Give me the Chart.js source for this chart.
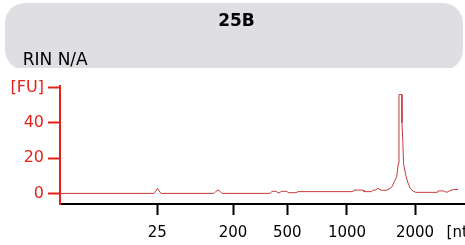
<!DOCTYPE html>
<html>
<head>
<meta charset="utf-8">
<script src="https://cdn.jsdelivr.net/npm/chart.js@4.4.0/dist/chart.umd.min.js"></script>
<style>
    html, body { margin: 0; padding: 0; background: #ffffff; }
    #page { position: relative; width: 465px; height: 245px; overflow: hidden; }
    #trace { position: absolute; left: 0; top: 0; }
    #header { position: absolute; left: 5px; top: 3px; width: 458px; height: 65px; overflow: hidden; }
    #header .box { position: absolute; left: 0; top: 0; width: 458px; height: 67px; background: #dfdfe3; border-radius: 20px; }
    #sampleName {
        position: absolute; left: 0; top: 6.5px; width: 463px; text-align: center;
        font: bold 17px "DejaVu Sans", sans-serif; line-height: 20px; color: #000;
    }
    #rin {
        position: absolute; left: 17.7px; top: 46.1px;
        font: 17px "DejaVu Sans", sans-serif; line-height: 20px; color: #000;
    }
</style>
</head>
<body>
<div id="page">
    <canvas id="trace" width="465" height="245"></canvas>
    <div id="header">
        <div class="box"></div>
        <div id="sampleName">25B</div>
        <div id="rin">RIN N/A</div>
    </div>
</div>
<script>
// Electropherogram trace: migration time [s] vs fluorescence [FU]
const migrationTime = [
    19.00, 30.60, 30.85, 31.04, 31.22, 31.47, 38.01, 38.26, 38.51, 38.75,
    39.00, 44.93, 45.17, 45.67, 45.91, 46.16, 46.28, 47.02, 47.15, 48.14,
    48.38, 55.17, 55.30, 56.41, 56.53, 57.48, 57.60, 58.01, 58.26, 58.51,
    58.88, 59.25, 59.49, 59.74, 59.99, 60.36, 60.57, 60.77, 60.85, 61.19,
    61.22, 61.32, 61.41, 61.68, 61.93, 62.21, 62.58, 62.95, 65.60, 65.67,
    66.41, 66.54, 66.90, 67.02, 67.56, 68.14
];
const fluorescence = [
    0, 0, 1.5, 2.9, 1.5, 0, 0, 1.2, 1.9, 1.2,
    0, 0, 1.2, 1.2, 0.4, 0.4, 1.2, 1.2, 0.4, 0.4,
    1.0, 1.0, 1.9, 1.9, 1.0, 1.0, 1.7, 2.0, 3.0, 2.0,
    1.7, 1.8, 2.2, 2.8, 3.8, 7.5, 9.5, 17, 56, 56,
    40, 30, 17, 10.5, 6.4, 3.0, 1.3, 0.6, 0.6, 1.4,
    1.4, 0.8, 0.8, 1.4, 2.2, 2.2
];

// Ladder positions on the time axis and their size labels
const ladderTimes = [31.0, 40.36, 47.06, 54.43, 62.83, 68.4];
const ladderLabels = ['25', '200', '500', '1000', '2000', '[nt]'];

// Fluorescence axis ticks
const fuTicks = [0, 20, 40, 60];
const fuLabels = ['0', '20', '40', '[FU]'];

const AXIS_RED = '#e2231a';
const TRACE_RED = '#c83c3c';

const points = migrationTime.map((t, i) => ({ x: t, y: fluorescence[i] }));

// keep the plot box fixed, labels may hang over the edges
function noLabelPadding(scale) {
    scale.paddingLeft = 0;
    scale.paddingRight = 0;
    scale.paddingTop = 0;
    scale.paddingBottom = 0;
}

const ctx = document.getElementById('trace').getContext('2d');

new Chart(ctx, {
    type: 'line',
    data: {
        datasets: [{
            data: points,
            borderColor: TRACE_RED,
            borderWidth: 1,
            pointRadius: 0,
            tension: 0,
            fill: false
        }]
    },
    options: {
        responsive: false,
        animation: false,
        events: [],
        layout: {
            autoPadding: false,
            padding: { top: 85.7, left: 0, right: 0, bottom: 0 }
        },
        plugins: {
            legend: { display: false },
            tooltip: { enabled: false }
        },
        scales: {
            x: {
                type: 'linear',
                min: 19,
                max: 69,
                afterBuildTicks: scale => {
                    scale.ticks = ladderTimes.map(v => ({ value: v }));
                },
                afterFit: scale => {
                    scale.height = 41;
                    noLabelPadding(scale);
                },
                grid: {
                    drawOnChartArea: false,
                    drawTicks: true,
                    tickLength: 11,
                    tickWidth: 2,
                    // no tick mark under the unit label
                    tickColor: c => c.index === ladderLabels.length - 1 ? 'rgba(0,0,0,0)' : '#000000'
                },
                border: { display: true, color: '#000000', width: 2 },
                ticks: {
                    autoSkip: false,
                    maxRotation: 0,
                    padding: 9,
                    color: '#000000',
                    font: { family: 'DejaVu Sans', size: 15 },
                    callback: (value, index) => ladderLabels[index]
                }
            },
            y: {
                min: -6,
                max: 61,
                afterBuildTicks: scale => {
                    scale.ticks = fuTicks.map(v => ({ value: v }));
                },
                afterFit: scale => {
                    scale.width = 60;
                    noLabelPadding(scale);
                },
                grid: {
                    drawOnChartArea: false,
                    drawTicks: true,
                    tickLength: 12,
                    tickWidth: 2,
                    tickColor: AXIS_RED
                },
                border: { display: true, color: AXIS_RED, width: 2 },
                ticks: {
                    padding: 4,
                    color: AXIS_RED,
                    font: { family: 'DejaVu Sans', size: 16 },
                    callback: (value, index) => fuLabels[index]
                }
            }
        }
    }
});
</script>
</body>
</html>
